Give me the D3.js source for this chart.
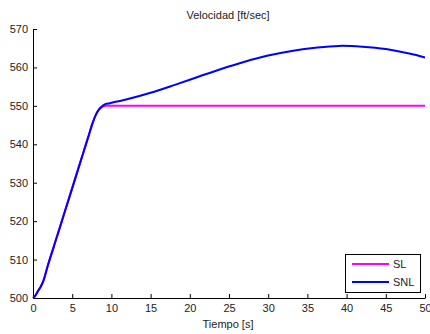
<!DOCTYPE html>
<html lang="es">
<head>
<meta charset="utf-8">
<title>Velocidad</title>
<script src="https://cdn.jsdelivr.net/npm/d3@7"></script>
<style>
  body { margin: 0; background: #fff; }
  svg text { font-family: "Liberation Sans", Arial, sans-serif; fill: #222; }
</style>
</head>
<body>
<script>
// time [s] and velocity [ft/sec]
var tSL  = [0, 0.3, 0.6, 1, 1.3, 1.6, 1.9, 3, 4, 5, 6, 7, 7.6, 8, 8.4, 8.8, 9.3, 9.8, 10.5, 50];
var vSL  = [500, 500.6, 501.7, 503, 504.3, 506.3, 508.5, 515.6, 522.1, 528.6, 535.1, 541.6, 545.5, 547.6, 549, 549.7, 550, 550, 550, 550];

var tSNL = [0, 0.3, 0.6, 1, 1.3, 1.6, 1.9, 3, 4, 5, 6, 7, 7.6, 8, 8.4, 8.8, 9.3, 9.8, 12, 15, 18, 21,
            24, 27, 30, 33, 36, 39, 42, 45, 48, 50];
var vSNL = [500, 500.6, 501.7, 503, 504.3, 506.3, 508.5, 515.6, 522.1, 528.6, 535.1, 541.6, 545.5, 547.6, 549, 549.9, 550.5, 550.7, 551.7, 553.4, 555.4, 557.5,
            559.6, 561.5, 563.1, 564.3, 565.1, 565.6, 565.4, 564.8, 563.6, 562.6];

var xTicks = [0, 5, 10, 15, 20, 25, 30, 35, 40, 45, 50];
var yTicks = [500, 510, 520, 530, 540, 550, 560, 570];
var seriesNames = ["SL", "SNL"];
var seriesColors = ["#ff00ff", "#0000ff"];

var w = 430, h = 334;
var padLeft = 33, padRight = 425, padTop = 29, padBottom = 298;

var svg = d3.select("body").append("svg")
    .attr("width", w)
    .attr("height", h);

var x = d3.scaleLinear().domain([0, 50]).range([padLeft, padRight]);
var y = d3.scaleLinear().domain([500, 570]).range([padBottom, padTop]);

// axes (ticks point inward, like matlab)
var xAxis = d3.axisBottom(x).tickValues(xTicks).tickSizeInner(-4).tickSizeOuter(0).tickPadding(6);
var yAxis = d3.axisLeft(y).tickValues(yTicks).tickSizeInner(-4).tickSizeOuter(0).tickPadding(5);

var gx = svg.append("g")
    .attr("transform", "translate(0," + padBottom + ")")
    .call(xAxis);
var gy = svg.append("g")
    .attr("transform", "translate(" + padLeft + ",0)")
    .call(yAxis);

[gx, gy].forEach(function(g) {
  g.select(".domain").attr("stroke", "#000");
  g.selectAll(".tick line").attr("stroke", "#000");
  g.selectAll(".tick text").style("font-size", "11px").style("font-family", "Liberation Sans, Arial, sans-serif").attr("fill", "#222");
});

// lines
var line = d3.line()
    .x(function(d) { return x(d[0]); })
    .y(function(d) { return y(d[1]); })
    .curve(d3.curveCatmullRom.alpha(0.5));

var sl = tSL.map(function(t, i) { return [t, vSL[i]]; });
var snl = tSNL.map(function(t, i) { return [t, vSNL[i]]; });

svg.append("path")
    .datum(sl)
    .attr("fill", "none")
    .attr("stroke", seriesColors[0])
    .attr("stroke-width", 2)
    .attr("d", line);

svg.append("path")
    .datum(snl)
    .attr("fill", "none")
    .attr("stroke", seriesColors[1])
    .attr("stroke-width", 2)
    .attr("d", line);

// title and label
svg.append("text")
    .attr("x", 228)
    .attr("y", 19)
    .attr("text-anchor", "middle")
    .style("font-size", "11px")
    .text("Velocidad [ft/sec]");

svg.append("text")
    .attr("x", 228)
    .attr("y", 328)
    .attr("text-anchor", "middle")
    .style("font-size", "11px")
    .text("Tiempo [s]");

// legend
var legend = svg.append("g");
legend.append("rect")
    .attr("x", 345.5)
    .attr("y", 254.5)
    .attr("width", 75)
    .attr("height", 38)
    .attr("fill", "#fff")
    .attr("stroke", "#000");

seriesNames.forEach(function(name, i) {
  var ly = 264 + i * 18;
  legend.append("line")
      .attr("x1", 352).attr("x2", 389)
      .attr("y1", ly).attr("y2", ly)
      .attr("stroke", seriesColors[i])
      .attr("stroke-width", 2);
  legend.append("text")
      .attr("x", 393)
      .attr("y", ly + 4)
      .style("font-size", "11px")
      .text(name);
});
</script>
</body>
</html>
